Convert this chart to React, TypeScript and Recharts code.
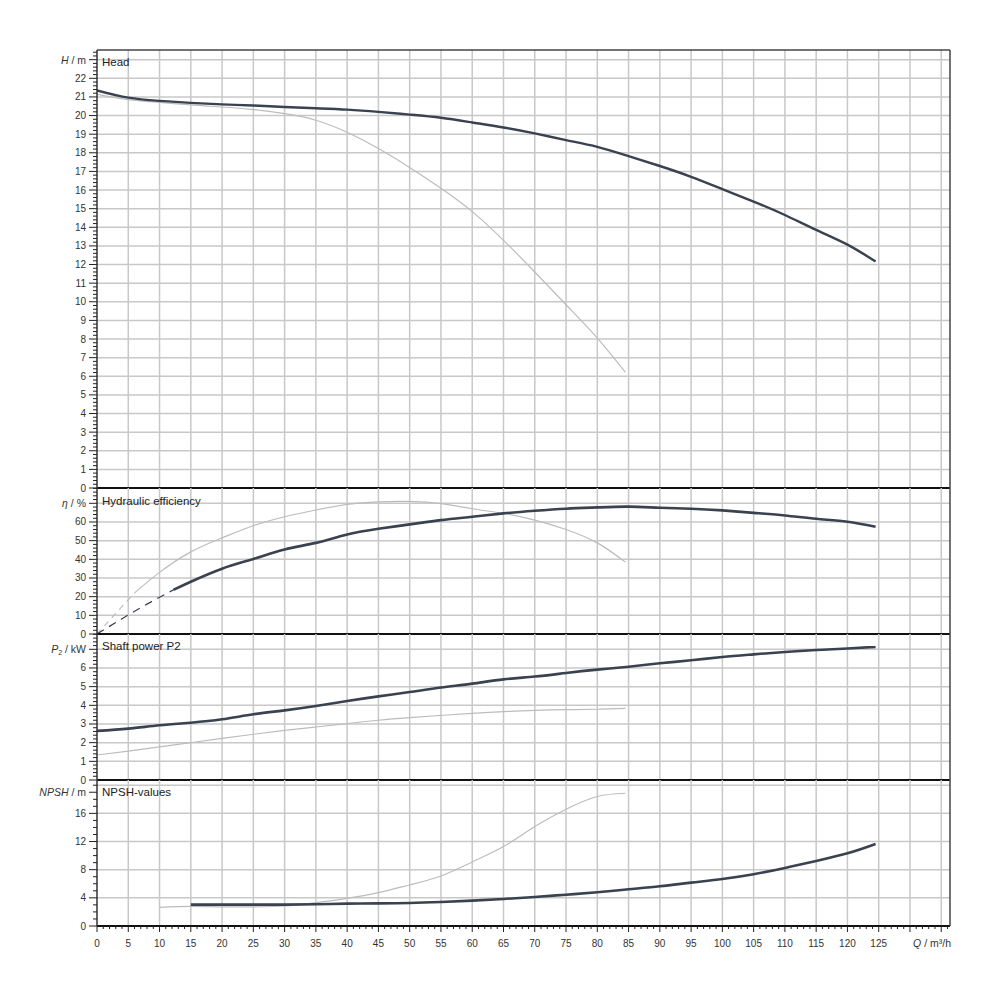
import React from "react";
import { LineChart, Line, XAxis, YAxis, CartesianGrid, ReferenceLine } from "recharts";

// flow rates (m³/h)
const qMain = [0, 5, 10, 15, 20, 25, 30, 35, 40, 45, 50, 55, 60, 65, 70, 75, 80, 85, 90, 95, 100, 105, 110, 115, 120, 124.5];
const qAlt = [0, 5, 10, 15, 20, 25, 30, 35, 40, 45, 50, 55, 60, 65, 70, 75, 80, 84.5];

// head (m)
const headMain = [21.35, 20.96, 20.79, 20.68, 20.6, 20.54, 20.46, 20.39, 20.32, 20.2, 20.05, 19.88, 19.63, 19.36, 19.04, 18.68, 18.32, 17.82, 17.29, 16.71, 16.05, 15.38, 14.66, 13.86, 13.07, 12.16];
const headAlt = [21.14, 20.86, 20.71, 20.57, 20.46, 20.32, 20.1, 19.75, 19.1, 18.23, 17.21, 16.09, 14.84, 13.3, 11.6, 9.84, 8.05, 6.21];

// hydraulic efficiency (%)
const etaMainDashQ = [0, 4, 8, 12.2];
const etaMainDash = [0, 8.2, 16, 23.6];
const etaMainQ = [12.2, 15, 20, 25, 30, 35, 40, 45, 50, 55, 60, 65, 70, 75, 80, 85, 90, 95, 100, 105, 110, 115, 120, 124.5];
const etaMain = [23.6, 28, 35, 40.2, 45.3, 48.8, 53.3, 56.4, 58.7, 61, 62.8, 64.6, 66, 67.1, 67.8, 68.2, 67.6, 67.1, 66.2, 64.9, 63.5, 61.7, 60.1, 57.4];
const etaAltDashQ = [0, 3, 6];
const etaAltDash = [0, 11, 22];
const etaAltQ = [6, 10, 15, 20, 25, 30, 35, 40, 45, 50, 55, 60, 65, 70, 75, 80, 84.5];
const etaAlt = [22, 33, 44, 51.5, 58, 62.8, 66.4, 69.4, 70.8, 71, 69.8, 67.1, 64.6, 61, 56, 48.8, 38.5];

// shaft power P2 (kW)
const powerMain = [2.63, 2.75, 2.93, 3.07, 3.25, 3.52, 3.73, 3.96, 4.23, 4.48, 4.71, 4.95, 5.16, 5.39, 5.54, 5.73, 5.91, 6.07, 6.25, 6.41, 6.59, 6.73, 6.86, 6.96, 7.04, 7.13];
const powerAlt = [1.34, 1.55, 1.77, 2.0, 2.23, 2.45, 2.66, 2.84, 3.02, 3.2, 3.34, 3.46, 3.57, 3.66, 3.73, 3.77, 3.79, 3.84];

// NPSH (m)
const npshMainQ = [15, 20, 25, 30, 35, 40, 45, 50, 55, 60, 65, 70, 75, 80, 85, 90, 95, 100, 105, 110, 115, 120, 124.5];
const npshMain = [3.03, 3.03, 3.03, 3.03, 3.08, 3.18, 3.22, 3.27, 3.41, 3.6, 3.84, 4.12, 4.45, 4.79, 5.21, 5.64, 6.16, 6.68, 7.35, 8.25, 9.24, 10.33, 11.66];
const npshAltQ = [10, 15, 20, 25, 30, 35, 40, 45, 50, 55, 60, 65, 70, 75, 80, 84.5];
const npshAlt = [2.65, 2.8, 2.72, 2.72, 2.84, 3.32, 3.93, 4.74, 5.83, 7.1, 9.1, 11.28, 14.12, 16.59, 18.4, 18.86];

// tick labels
const qTicks = [0, 5, 10, 15, 20, 25, 30, 35, 40, 45, 50, 55, 60, 65, 70, 75, 80, 85, 90, 95, 100, 105, 110, 115, 120, 125];
const headTicks = [0, 1, 2, 3, 4, 5, 6, 7, 8, 9, 10, 11, 12, 13, 14, 15, 16, 17, 18, 19, 20, 21, 22];
const etaTicks = [0, 10, 20, 30, 40, 50, 60];
const powerTicks = [0, 1, 2, 3, 4, 5, 6];
const npshTicks = [0, 4, 8, 12, 16];

const Q_MAX = 136.4;
const LEFT = 97;
const FONT = "'Liberation Sans', Arial, sans-serif";
const DARK = "#3a4250";
const LIGHT = "#bcbcbc";
const GRID = "#c8c8c8";

const pts = (q: number[], v: number[]) => q.map((x, i) => ({ q: x, v: v[i] }));

const steps = (step: number, max: number) => {
  const out: number[] = [];
  for (let i = 0; i * step <= max + 1e-6; i++) out.push(Math.round(i * step * 1000) / 1000);
  return out;
};

type Series = { data: { q: number; v: number }[]; color: string; width: number; dash?: string };

type PanelProps = {
  top: number;
  bottom: number;
  yMax: number;
  labels: number[];
  minorStep: number;
  grid: number[];
  unitAt: number;
  unit: React.ReactNode;
  series: Series[];
  showX?: boolean;
  topBorder?: boolean;
};

function Panel({ top, bottom, yMax, labels, minorStep, grid, unitAt, unit, series, showX, topBorder }: PanelProps) {
  const minor = steps(minorStep, yMax);
  const YTick = (props: any) => {
    const { y, payload } = props;
    const v = payload.value;
    const isLabel = labels.some((l) => Math.abs(l - v) < 1e-6);
    const isUnit = Math.abs(v - unitAt) < 1e-6;
    const len = isLabel || isUnit ? 8 : 4;
    return (
      <g>
        <line x1={LEFT - len} x2={LEFT} y1={y} y2={y} stroke="#222" strokeWidth={1} />
        {isLabel && (
          <text x={86} y={y} textAnchor="end" dominantBaseline="central" fontSize={10} fontFamily={FONT} fill="#333">
            {v}
          </text>
        )}
        {isUnit && (
          <text x={86} y={y} textAnchor="end" dominantBaseline="central" fontSize={10.5} fontFamily={FONT} fill="#333">
            {unit}
          </text>
        )}
      </g>
    );
  };
  const XTick = (props: any) => {
    const { x, y, payload } = props;
    const v = payload.value;
    const major = v % 5 === 0;
    return (
      <g>
        <line x1={x} x2={x} y1={y} y2={y + (major ? 6 : 3)} stroke="#222" strokeWidth={1} />
        {qTicks.includes(v) && (
          <text x={x} y={y + 17} textAnchor="middle" dominantBaseline="central" fontSize={10} fontFamily={FONT} fill="#333">
            {v}
          </text>
        )}
        {v === 130 && (
          <text x={951} y={y + 17} textAnchor="end" dominantBaseline="central" fontSize={10.5} fontFamily={FONT} fill="#333">
            <tspan fontStyle="italic">Q</tspan> / m³/h
          </text>
        )}
      </g>
    );
  };
  return (
    <div style={{ position: "absolute", left: 0, top: 0 }}>
      <LineChart
        width={1000}
        height={1000}
        margin={{ top, bottom: 1000 - bottom - (showX ? 30 : 0), left: 17, right: 50 }}
      >
        <CartesianGrid
          stroke={GRID}
          strokeWidth={1.5}
          horizontalValues={grid}
          verticalValues={steps(5, Q_MAX).filter((v) => v > 0)}
        />
        <XAxis
          type="number"
          dataKey="q"
          domain={[0, Q_MAX]}
          allowDataOverflow
          hide={!showX}
          ticks={steps(1, Q_MAX)}
          interval={0}
          tickLine={false}
          axisLine={false}
          tickSize={0}
          tickMargin={0}
          height={30}
          tick={XTick}
        />
        <YAxis
          type="number"
          dataKey="v"
          domain={[0, yMax]}
          allowDataOverflow
          ticks={minor}
          interval={0}
          tickLine={false}
          tickSize={0}
          tickMargin={0}
          axisLine={{ stroke: "#333", strokeWidth: 1.5 }}
          width={80}
          tick={YTick}
        />
        {series.map((s, i) => (
          <Line
            key={i}
            data={s.data}
            dataKey="v"
            type="natural"
            stroke={s.color}
            strokeWidth={s.width}
            strokeDasharray={s.dash}
            dot={false}
            activeDot={false}
            isAnimationActive={false}
          />
        ))}
        <ReferenceLine y={0} stroke="#111" strokeWidth={2} ifOverflow="visible" />
        {topBorder && <ReferenceLine y={yMax} stroke="#444" strokeWidth={1.5} ifOverflow="visible" />}
        <ReferenceLine x={Q_MAX} stroke="#444" strokeWidth={1.5} ifOverflow="visible" />
      </LineChart>
    </div>
  );
}

const titleStyle = (top: number): React.CSSProperties => ({
  position: "absolute",
  left: 102,
  top,
  fontFamily: FONT,
  fontSize: 11.5,
  color: "#222",
  lineHeight: "14px",
  whiteSpace: "nowrap",
});

export default function App() {
  return (
    <div style={{ position: "absolute", left: 0, top: 0, width: 1000, height: 1000, background: "#fff" }}>
      <Panel
        top={50}
        bottom={488}
        yMax={23.52}
        labels={headTicks}
        minorStep={0.2}
        grid={steps(1, 23)}
        unitAt={23}
        unit={<><tspan fontStyle="italic">H</tspan> / m</>}
        topBorder
        series={[
          { data: pts(qAlt, headAlt), color: LIGHT, width: 1.2 },
          { data: pts(qMain, headMain), color: DARK, width: 2.4 },
        ]}
      />
      <Panel
        top={488}
        bottom={634}
        yMax={78.2}
        labels={etaTicks}
        minorStep={2}
        grid={steps(10, 70)}
        unitAt={70}
        unit={<><tspan fontStyle="italic">η</tspan> / %</>}
        series={[
          { data: pts(etaAltDashQ, etaAltDash), color: LIGHT, width: 1.2, dash: "6 5" },
          { data: pts(etaAltQ, etaAlt), color: LIGHT, width: 1.2 },
          { data: pts(etaMainDashQ, etaMainDash), color: DARK, width: 1.2, dash: "8 6" },
          { data: pts(etaMainQ, etaMain), color: DARK, width: 2.6 },
        ]}
      />
      <Panel
        top={634}
        bottom={780}
        yMax={7.82}
        labels={powerTicks}
        minorStep={0.2}
        grid={steps(1, 7)}
        unitAt={7}
        unit={<><tspan fontStyle="italic">P</tspan><tspan fontSize={7} dy={3}>2</tspan><tspan dy={-3}> / kW</tspan></>}
        series={[
          { data: pts(qAlt, powerAlt), color: LIGHT, width: 1.2 },
          { data: pts(qMain, powerMain), color: DARK, width: 2.6 },
        ]}
      />
      <Panel
        top={780}
        bottom={926}
        yMax={20.74}
        labels={npshTicks}
        minorStep={1}
        grid={steps(4, 20)}
        unitAt={19}
        unit={<><tspan fontStyle="italic">NPSH</tspan> / m</>}
        showX
        series={[
          { data: pts(npshAltQ, npshAlt), color: LIGHT, width: 1.2 },
          { data: pts(npshMainQ, npshMain), color: DARK, width: 2.6 },
        ]}
      />
      <div style={titleStyle(55)}>Head</div>
      <div style={titleStyle(494)}>Hydraulic efficiency</div>
      <div style={titleStyle(639)}>Shaft power P2</div>
      <div style={titleStyle(785)}>NPSH-values</div>
    </div>
  );
}
